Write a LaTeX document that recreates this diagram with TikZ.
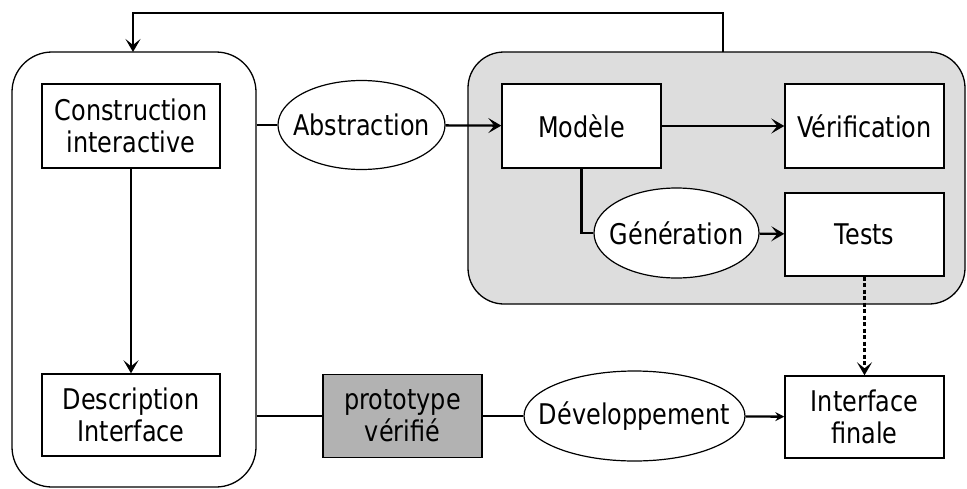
\documentclass[tikz,border=0pt]{standalone}
\usepackage{fontspec}
\setmainfont{DejaVu Sans}[FakeStretch=0.84]
\usetikzlibrary{arrows.meta,shapes.geometric}
\definecolor{panelgrey}{HTML}{DDDDDD}
\definecolor{protogrey}{HTML}{B2B2B2}
\tikzset{
  every node/.style={font=\fontsize{28.5}{32}\selectfont, text=black},
  boxnode/.style={draw, line width=1.4pt, fill=white, inner sep=0pt, align=center},
  ellnode/.style={draw, ellipse, line width=1.2pt, fill=white, inner sep=0pt},
  container/.style={draw, line width=1.3pt, inner sep=0pt},
  conn/.style={line width=2.3pt},
  arr/.style={conn, -{Stealth[length=13pt,width=15pt,inset=6pt]}},
  smallarr/.style={conn, -{Stealth[length=9pt,width=9pt,inset=3pt]}},
}
\begin{document}
\begin{tikzpicture}[x=1pt,y=-1pt]
\useasboundingbox (0,0) rectangle (967,488);
% containers
\node[container, rounded corners=40pt, minimum width=244pt, minimum height=435pt] (leftc) at (134,269.5) {};
\node[container, rounded corners=36pt, fill=panelgrey, minimum width=497pt, minimum height=252pt] (grey) at (716.5,178) {};
% boxes
\node[boxnode, minimum width=178pt, minimum height=84pt] (ci) at (131,126) {Construction\\interactive};
\node[boxnode, minimum width=178pt, minimum height=82pt] (di) at (131,415) {Description\\Interface};
\node[boxnode, minimum width=159pt, minimum height=84pt] (mod) at (581.5,126) {Modèle};
\node[boxnode, minimum width=159pt, minimum height=84pt] (ver) at (864.5,126) {Vérification};
\node[boxnode, minimum width=159pt, minimum height=83pt] (tests) at (864.5,234.5) {Tests};
\node[boxnode, minimum width=159pt, minimum height=82pt] (final) at (864.5,417) {Interface\\finale};
\node[boxnode, fill=protogrey, minimum width=159pt, minimum height=83pt] (proto) at (402.5,416) {prototype\\vérifié};
% ellipses (text set as centred label so the outline keeps its size)
\node[ellnode, minimum width=167pt, minimum height=89pt, label={center:Abstraction}] (abs) at (361.5,125) {};
\node[ellnode, minimum width=165pt, minimum height=90pt, label={center:Génération}] (gen) at (676.5,233) {};
\node[ellnode, minimum width=221pt, minimum height=90pt, label={center:Développement}] (dev) at (634.5,416) {};
% feedback loop
\coordinate (fbstart) at (723,52);
\coordinate (fbtop) at (723,13);
\coordinate (fbend) at (133,52);
\draw[arr] (fbstart) -- (fbtop) -| (fbend);
% connectors
\draw[arr] (ci) -- (di);
\draw[conn] (leftc.east |- abs.west) -- (abs.west);
\draw[arr] (abs) -- (mod);
\draw[arr] (mod) -- (ver);
\draw[conn] (mod.south) |- (gen.west);
\draw[arr] (gen) -- (tests);
\draw[arr, dash pattern=on 4pt off 2.5pt] (tests) -- (final);
\draw[conn] (leftc.east |- proto.west) -- (proto.west);
\draw[conn] (proto) -- (dev);
\draw[smallarr] (dev) -- (final);
\end{tikzpicture}
\end{document}
